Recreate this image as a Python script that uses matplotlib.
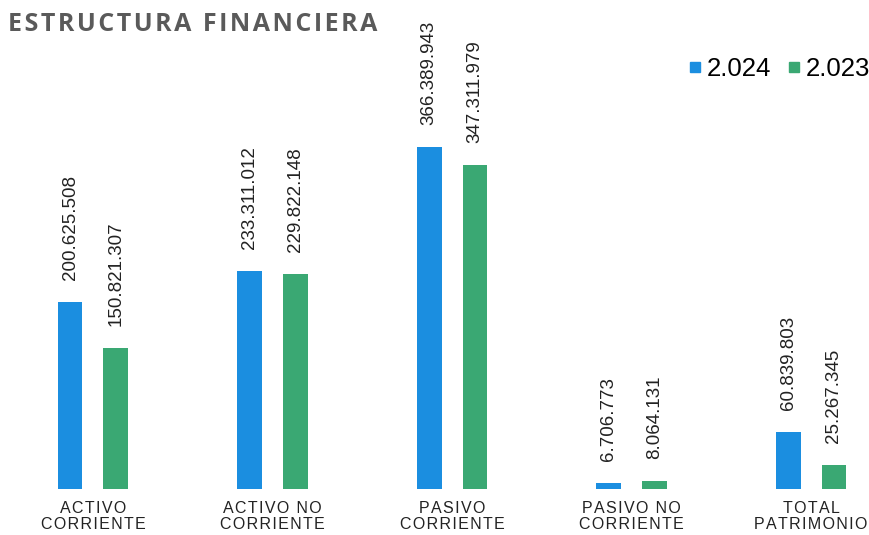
import matplotlib
matplotlib.use("Agg")
import matplotlib.pyplot as plt
from matplotlib.lines import Line2D

categories = ["ACTIVO\nCORRIENTE", "ACTIVO NO\nCORRIENTE", "PASIVO\nCORRIENTE",
              "PASIVO NO\nCORRIENTE", "TOTAL\nPATRIMONIO"]
v2024 = [200625508, 233311012, 366389943, 6706773, 60839803]
v2023 = [150821307, 229822148, 347311979, 8064131, 25267345]
series = [("2.024", v2024, "#1b8ee0"), ("2.023", v2023, "#3aa873")]

def fmt(v):
    return f"{v:,}".replace(",", ".")

def spaced(s, sep="\u200a"):
    # imitate the letter spacing of the original labels
    return "\n".join(sep.join(line) for line in s.split("\n"))

plt.rcParams["font.family"] = ["Liberation Sans", "DejaVu Sans"]

fig = plt.figure(figsize=(8.69, 5.35), dpi=100)
ax = fig.add_axes([0, 46 / 535, 1, 489 / 535])

x = list(range(len(categories)))
w = 0.139
off = 0.128
for k, (name, vals, color) in enumerate(series):
    xs = [i + (off if k else -off) for i in x]
    ax.bar(xs, vals, width=w, color=color, edgecolor="none")
    for xi, v in zip(xs, vals):
        ax.annotate(fmt(v), (xi, v), xytext=(0, 16), textcoords="offset points",
                    rotation=90, ha="center", va="bottom", fontsize=13.5, color="#222222")

ax.set_xlim(-0.518, 4.323)
ax.set_ylim(0, 366389943 * 489 / 342)
ax.axis("off")

for i, c in enumerate(categories):
    ax.text(i, -0.025 * ax.get_ylim()[1], spaced(c), ha="center", va="top",
            fontsize=11.5, color="#222222", linespacing=1.1)

fig.text(0.009, 0.978, spaced("ESTRUCTURA FINANCIERA"),
         ha="left", va="top", fontsize=18, fontweight="bold", color="#5a5a5a",
         family=["Open Sans", "DejaVu Sans"])

handles = [Line2D([], [], marker="s", ls="none", color=c, markersize=7.5) for _, _, c in series]
fig.legend(handles, [s[0] for s in series], loc="upper right", bbox_to_anchor=(1.028, 0.937),
           ncol=2, frameon=False, fontsize=18.5, handletextpad=0.15, columnspacing=0.6,
           handlelength=0.6)

fig.savefig("out.png", dpi=100)
